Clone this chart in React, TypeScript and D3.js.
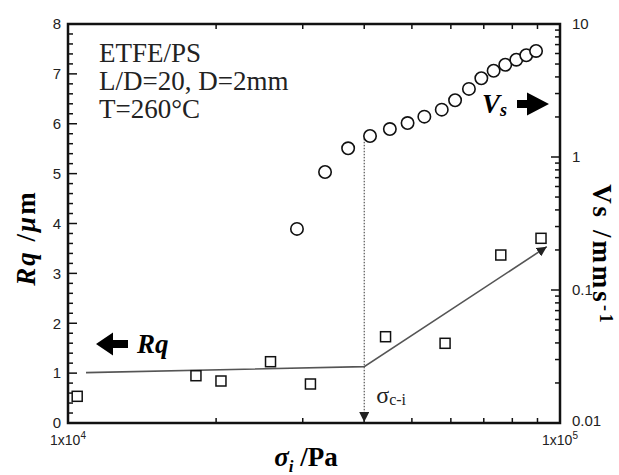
import React, { useRef, useEffect } from "react";
import * as d3 from "d3";

// slip velocity Vs (right axis, log) vs interfacial stress
const vsStress = [2.92e4, 3.33e4, 3.71e4, 4.11e4, 4.51e4, 4.9e4, 5.3e4, 5.75e4, 6.12e4, 6.53e4, 6.92e4, 7.33e4, 7.74e4, 8.15e4, 8.54e4, 8.94e4];
const vsValues = [0.288, 0.771, 1.163, 1.438, 1.623, 1.8, 2.01, 2.27, 2.67, 3.25, 3.91, 4.45, 4.94, 5.39, 5.82, 6.27];

// surface roughness Rq (left axis)
const rqStress = [1.044e4, 1.82e4, 2.046e4, 2.58e4, 3.11e4, 4.42e4, 5.84e4, 7.58e4, 9.15e4];
const rqValues = [0.535, 0.948, 0.842, 1.229, 0.782, 1.73, 1.598, 3.368, 3.703];

// guide line through Rq
const trendStress = [1.088e4, 4.0e4, 9.4e4];
const trendRq = [1.01, 1.13, 3.535];

const criticalStress = 4.0e4;
const criticalVs = 1.37;

const leftTicks = [0, 1, 2, 3, 4, 5, 6, 7, 8];
const rightTicks = [0.01, 0.1, 1, 10];
const rightTickLabels = ["0.01", "0.1", "1", "10"];
const infoLines = ["ETFE/PS", "L/D=20, D=2mm", "T=260°C"];

const W = 619;
const H = 475;
const margin = { top: 24, right: 59, bottom: 52, left: 68 };

const App = () => {
  const ref = useRef<SVGSVGElement>(null);

  useEffect(() => {
    const svg = d3.select(ref.current);
    svg.selectAll("*").remove();
    const x0 = margin.left, x1 = W - margin.right;
    const y0 = H - margin.bottom, y1 = margin.top;

    const x = d3.scaleLog().domain([1e4, 1e5]).range([x0, x1]);
    const yL = d3.scaleLinear().domain([0, 8]).range([y0, y1]);
    const yR = d3.scaleLog().domain([0.01, 10]).range([y0, y1]);

    const sans = "'Liberation Sans', Arial, sans-serif";
    const serif = "'Liberation Serif', 'Times New Roman', serif";

    const defs = svg.append("defs");
    defs.append("marker")
      .attr("id", "tip")
      .attr("viewBox", "0 0 10 10")
      .attr("refX", 10).attr("refY", 5)
      .attr("markerWidth", 10).attr("markerHeight", 10)
      .attr("markerUnits", "userSpaceOnUse")
      .attr("orient", "auto")
      .append("path").attr("d", "M0,0 L10,5 L0,10 Z").attr("fill", "#222");

    const ticks = svg.append("g").attr("stroke", "#111").attr("stroke-width", 1.5);

    // left axis ticks (major + 0.2 minors)
    d3.range(0, 8.001, 0.2).forEach((v) => {
      const major = Math.abs(v - Math.round(v)) < 1e-6;
      ticks.append("line")
        .attr("x1", x0).attr("x2", x0 + (major ? 9 : 5))
        .attr("y1", yL(v)).attr("y2", yL(v));
    });
    // right axis log ticks
    [0.01, 0.1, 1].forEach((d) => {
      d3.range(1, 10).forEach((m) => {
        const v = d * m;
        ticks.append("line")
          .attr("x1", x1).attr("x2", x1 - (m === 1 ? 9 : 5))
          .attr("y1", yR(v)).attr("y2", yR(v));
      });
    });
    // bottom/top log minor ticks
    d3.range(2, 10).forEach((m) => {
      const v = m * 1e4;
      ticks.append("line").attr("x1", x(v)).attr("x2", x(v)).attr("y1", y0).attr("y2", y0 - 5);
      ticks.append("line").attr("x1", x(v)).attr("x2", x(v)).attr("y1", y1).attr("y2", y1 + 5);
    });

    svg.append("rect")
      .attr("x", x0).attr("y", y1)
      .attr("width", x1 - x0).attr("height", y0 - y1)
      .attr("fill", "none").attr("stroke", "#111").attr("stroke-width", 2.5);

    // tick labels
    svg.append("g").selectAll("text").data(leftTicks).join("text")
      .attr("x", x0 - 7).attr("y", (d) => yL(d)).attr("dy", "0.35em")
      .attr("text-anchor", "end").attr("font-family", sans).attr("font-size", 15)
      .attr("fill", "#222").text((d) => d);

    svg.append("g").selectAll("text").data(rightTicks).join("text")
      .attr("x", x1 + 12).attr("y", (d) => yR(d) - (d === 0.01 ? 2 : 0)).attr("dy", "0.35em")
      .attr("font-family", sans).attr("font-size", 15)
      .attr("fill", "#222").text((d, i) => rightTickLabels[i]);

    [[1e4, "4"], [1e5, "5"]].forEach(([v, e]) => {
      const t = svg.append("text")
        .attr("x", x(v as number)).attr("y", y0 + 22)
        .attr("text-anchor", "middle").attr("font-family", sans).attr("font-size", 14)
        .attr("fill", "#222");
      t.append("tspan").text("1x10");
      t.append("tspan").attr("dy", -6).attr("font-size", 10).text(e as string);
    });

    // axis titles
    const lt = svg.append("text")
      .attr("transform", `translate(35,238) rotate(-90)`)
      .attr("text-anchor", "middle").attr("font-family", serif)
      .attr("font-size", 27).attr("font-weight", "bold").attr("letter-spacing", 2);
    lt.append("tspan").attr("font-style", "italic").text("Rq");
    lt.append("tspan").text(" /");
    lt.append("tspan").attr("font-style", "italic").text("μ");
    lt.append("tspan").text("m");

    const bt = svg.append("text")
      .attr("x", 306).attr("y", 466)
      .attr("text-anchor", "middle").attr("font-family", serif)
      .attr("font-size", 27).attr("font-weight", "bold");
    bt.append("tspan").attr("font-style", "italic").text("σ");
    bt.append("tspan").attr("font-style", "italic").attr("font-size", 17).attr("dy", 6).text("i");
    bt.append("tspan").attr("dy", -6).text("  /Pa");

    const rt = svg.append("text")
      .attr("transform", `translate(593,255) rotate(90)`)
      .attr("text-anchor", "middle").attr("font-family", serif)
      .attr("font-size", 27).attr("font-weight", "bold").attr("letter-spacing", 3);
    rt.append("tspan").text("Vs /mms");
    rt.append("tspan").attr("dy", -7).attr("font-size", 18).text("-1");

    // info text
    svg.append("g").selectAll("text").data(infoLines).join("text")
      .attr("x", 99).attr("y", (d, i) => 62 + i * 28)
      .attr("font-family", serif).attr("font-size", 27).attr("fill", "#222")
      .text((d) => d);

    // critical stress guide
    svg.append("line")
      .attr("x1", x(criticalStress)).attr("x2", x(criticalStress))
      .attr("y1", yR(criticalVs)).attr("y2", y0 - 1)
      .attr("stroke", "#333").attr("stroke-width", 1)
      .attr("stroke-dasharray", "1.5,1.5")
      .attr("marker-end", "url(#tip)");

    const sc = svg.append("text")
      .attr("x", x(criticalStress) + 12).attr("y", 403)
      .attr("font-family", serif).attr("font-size", 24).attr("fill", "#222");
    sc.append("tspan").text("σ");
    sc.append("tspan").attr("font-size", 16).attr("dy", 2).text("c-i");

    // Rq trend line
    const line = d3.line<number>()
      .x((d, i) => x(trendStress[i]))
      .y((d) => yL(d));
    svg.append("path")
      .attr("d", line(trendRq))
      .attr("fill", "none").attr("stroke", "#555").attr("stroke-width", 1.6)
      .attr("marker-end", "url(#tip)");

    // squares
    svg.append("g").selectAll("rect").data(rqValues).join("rect")
      .attr("x", (d, i) => x(rqStress[i]) - 5).attr("y", (d) => yL(d) - 5)
      .attr("width", 10).attr("height", 10)
      .attr("fill", "white").attr("stroke", "#111").attr("stroke-width", 1.5);

    // circles
    svg.append("g").selectAll("circle").data(vsValues).join("circle")
      .attr("cx", (d, i) => x(vsStress[i])).attr("cy", (d) => yR(d))
      .attr("r", 6.2)
      .attr("fill", "white").attr("stroke", "#111").attr("stroke-width", 1.6);

    // block arrows with series names
    svg.append("path")
      .attr("d", "M96,344 L113,332.5 L113,340 L128,340 L128,348 L113,348 L113,355.5 Z")
      .attr("fill", "#000");
    svg.append("text")
      .attr("x", 137).attr("y", 353)
      .attr("font-family", serif).attr("font-size", 27)
      .attr("font-weight", "bold").attr("font-style", "italic").text("Rq");

    svg.append("path")
      .attr("d", "M549,104 L527,92.5 L527,100 L517,100 L517,108 L527,108 L527,115.5 Z")
      .attr("fill", "#000");
    const vs = svg.append("text")
      .attr("x", 482).attr("y", 113)
      .attr("font-family", serif).attr("font-size", 27)
      .attr("font-weight", "bold").attr("font-style", "italic");
    vs.append("tspan").text("V");
    vs.append("tspan").attr("font-size", 18).attr("dy", 3).text("s");
  });

  return (
    <div style={{ position: "absolute", left: 0, top: 0 }}>
      <svg ref={ref} width={W} height={H} style={{ display: "block", background: "white" }}></svg>
    </div>
  );
};

export default App;
